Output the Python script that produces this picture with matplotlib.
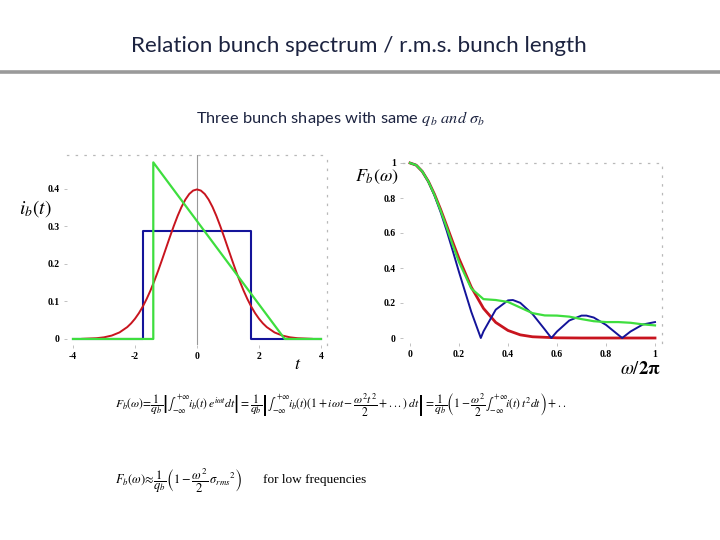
import matplotlib
matplotlib.use("Agg")
import matplotlib.pyplot as plt

# ── Data: bunch shapes i_b(t) ────────────────────────────────────────────────
t_gauss = [-3.7, -3.25, -3.0, -2.75, -2.5, -2.25, -2.125, -2.0, -1.875, -1.75, -1.625,
           -1.5, -1.375, -1.25, -1.125, -1.0, -0.875, -0.75, -0.625, -0.5, -0.375,
           -0.25, -0.125, 0.0, 0.125, 0.25, 0.375, 0.5, 0.625, 0.75, 0.875, 1.0,
           1.125, 1.25, 1.375, 1.5, 1.625, 1.75, 1.875, 2.0, 2.125, 2.25, 2.5, 2.75,
           3.0, 3.25, 3.7]
i_gauss = [0.0004, 0.0020, 0.0044, 0.0091, 0.0175, 0.0317, 0.0417, 0.0540, 0.0688,
           0.0863, 0.1066, 0.1295, 0.1550, 0.1826, 0.2119, 0.2420, 0.2721, 0.3011,
           0.3282, 0.3521, 0.3718, 0.3867, 0.3958, 0.3989, 0.3958, 0.3867, 0.3718,
           0.3521, 0.3282, 0.3011, 0.2721, 0.2420, 0.2119, 0.1826, 0.1550, 0.1295,
           0.1066, 0.0863, 0.0688, 0.0540, 0.0417, 0.0317, 0.0175, 0.0091, 0.0044,
           0.0020, 0.0004]

t_rect = [-4.0, -1.73, -1.73, 1.73, 1.73, 4.0]
i_rect = [0.0, 0.0, 0.289, 0.289, 0.0, 0.0]

t_tri = [-4.0, -1.41, -1.41, 2.83, 4.0]
i_tri = [0.0, 0.0, 0.471, 0.0, 0.0]

# ── Data: spectra F_b(omega) vs omega/2pi ────────────────────────────────────
f_gauss = [0.0, 0.025, 0.05, 0.075, 0.1, 0.125, 0.15, 0.175, 0.2, 0.25, 0.3, 0.35, 0.4,
           0.45, 0.5, 0.6, 0.7, 0.8, 0.9, 1.0]
F_gauss = [1.0, 0.988, 0.952, 0.895, 0.821, 0.735, 0.641, 0.546, 0.454, 0.291, 0.169,
           0.089, 0.043, 0.018, 0.007, 0.001, 0.0, 0.0, 0.0, 0.0]

f_rect = [0.0, 0.025, 0.05, 0.075, 0.1, 0.125, 0.15, 0.175, 0.2, 0.25, 0.289, 0.3, 0.35,
          0.4, 0.42, 0.45, 0.5, 0.55, 0.577, 0.6, 0.65, 0.7, 0.72, 0.75, 0.8, 0.85,
          0.866, 0.9, 0.95, 1.0]
F_rect = [1.0, 0.988, 0.952, 0.893, 0.814, 0.719, 0.612, 0.496, 0.377, 0.150, 0.0,
          0.038, 0.162, 0.215, 0.217, 0.201, 0.137, 0.049, 0.0, 0.037, 0.100, 0.128,
          0.128, 0.117, 0.075, 0.018, 0.0, 0.037, 0.077, 0.091]

f_tri = [0.0, 0.025, 0.05, 0.075, 0.1, 0.125, 0.15, 0.175, 0.2, 0.25, 0.3, 0.35, 0.4,
         0.45, 0.5, 0.55, 0.6, 0.65, 0.7, 0.75, 0.8, 0.85, 0.9, 0.95, 1.0]
F_tri = [1.0, 0.988, 0.952, 0.894, 0.817, 0.728, 0.630, 0.529, 0.434, 0.283, 0.222,
         0.217, 0.206, 0.174, 0.142, 0.129, 0.128, 0.122, 0.108, 0.096, 0.091, 0.091,
         0.087, 0.078, 0.072]

RED   = "#c8141e"
BLUE  = "#14149a"
GREEN = "#3ede3e"
DOT   = "#b8b8b8"

plt.rcParams["mathtext.fontset"] = "stix"

W, H = 720, 540
fig = plt.figure(figsize=(7.2, 5.4), dpi=100)
fig.patch.set_facecolor("white")


def px_axes(x0, y_top, x1, y_bot):
    return fig.add_axes([x0 / W, 1 - y_bot / H, (x1 - x0) / W, (y_bot - y_top) / H])


def style_frame(ax):
    for side in ("left", "bottom"):
        ax.spines[side].set_visible(False)
    for side in ("top", "right"):
        ax.spines[side].set_linestyle((0, (1, 6)))
        ax.spines[side].set_color(DOT)
        ax.spines[side].set_linewidth(0.9)
    ax.tick_params(axis="both", length=2, width=0.6, color=DOT, labelsize=7,
                   pad=3)
    for lab in ax.get_xticklabels() + ax.get_yticklabels():
        lab.set_family("Liberation Serif")
        lab.set_fontweight("bold")
    ax.patch.set_alpha(0)


# ── Title + rule ───────────────────────────────────────────────────────────────
fig.text(359 / W, 1 - 46 / H, "Relation bunch spectrum / r.m.s. bunch length",
         ha="center", va="center", fontsize=16.2, family="Lato", color="#1c2340")
fig.add_artist(plt.Line2D([0, 1], [1 - 72 / H, 1 - 72 / H], color="#9a9a9a", lw=2.6))
fig.text(341 / W, 1 - 118 / H,
         r"Three bunch shapes with same $\mathit{q_b}$ $\mathit{and}$ $\sigma_b$",
         ha="center", va="center", fontsize=11.8, family="Lato", color="#1c2340")

# ── Left: bunch shapes ─────────────────────────────────────────────────────────
ax1 = px_axes(66.8, 155.25, 327.2, 344.6)
ax1.set_xlim(-4.2, 4.2)
ax1.set_ylim(-0.015, 0.49)
ax1.axvline(0, color="#999999", lw=0.8, zorder=1)
ax1.plot(t_rect, i_rect, color=BLUE, lw=1.5, zorder=2)
ax1.plot(t_gauss, i_gauss, color=RED, lw=1.4, zorder=3)
ax1.plot(t_tri, i_tri, color=GREEN, lw=1.6, zorder=4, clip_on=False)
ax1.set_xticks([-4, -2, 0, 2, 4])
ax1.set_xticklabels(["-4", "-2", "0", "2", "4"])
ax1.set_yticks([0, 0.1, 0.2, 0.3, 0.4])
ax1.set_yticklabels(["0", "0.1", "0.2", "0.3", "0.4"])
style_frame(ax1)

fig.text(35 / W, 1 - 209 / H, r"$i_b(t)$", ha="center", va="center", fontsize=14)
fig.text(298 / W, 1 - 364 / H, r"$t$", ha="center", va="center", fontsize=13)

# ── Right: spectra ─────────────────────────────────────────────────────────────
ax2 = px_axes(402.65, 163, 662.35, 343.25)
ax2.set_xlim(-0.03, 1.03)
ax2.set_ylim(-0.03, 1.0)
ax2.plot(f_gauss, F_gauss, color=RED, lw=2.0, zorder=2, clip_on=False)
ax2.plot(f_rect, F_rect, color=BLUE, lw=1.4, zorder=3, clip_on=False)
ax2.plot(f_tri, F_tri, color=GREEN, lw=1.6, zorder=4, clip_on=False)
ax2.set_xticks([0, 0.2, 0.4, 0.6, 0.8, 1.0])
ax2.set_xticklabels(["0", "0.2", "0.4", "0.6", "0.8", "1"])
ax2.set_yticks([0, 0.2, 0.4, 0.6, 0.8, 1.0])
ax2.set_yticklabels(["0", "0.2", "0.4", "0.6", "0.8", "1"])
style_frame(ax2)

fig.text(377 / W, 1 - 177 / H, r"$F_b(\omega)$", ha="center", va="center", fontsize=13)
fig.text(640 / W, 1 - 368 / H, r"$\omega/\mathbf{2\pi}$", ha="center", va="center",
         fontsize=13.5)

# ── Equations ──────────────────────────────────────────────────────────────────
eq1 = (r"$F_b(\omega)\!=\!\dfrac{1}{q_b}\left|\int_{-\infty}^{+\infty}\! i_b(t)\,e^{i\omega t}dt\right|"
       r"=\dfrac{1}{q_b}\left|\int_{-\infty}^{+\infty}\! i_b(t)(1+i\omega t-\dfrac{\omega^2 t^2}{2}+...)\;dt\right|"
       r"=\dfrac{1}{q_b}\left(1-\dfrac{\omega^2}{2}\int_{-\infty}^{+\infty}\! i(t)\,t^2dt\right)+..$")
fig.text(115 / W, 1 - 404 / H, eq1, ha="left", va="center", fontsize=8.4)

eq2 = r"$F_b(\omega)\!\approx\!\dfrac{1}{q_b}\left(1-\dfrac{\omega^2}{2}\,\sigma_{rms}{}^{2}\right)$"
fig.text(115 / W, 1 - 481 / H, eq2, ha="left", va="center", fontsize=9.0)
fig.text(263 / W, 1 - 480 / H, "for low frequencies", ha="left", va="center",
         fontsize=9.5, family="Liberation Serif")

fig.savefig("out.png", dpi=100, facecolor="white")
